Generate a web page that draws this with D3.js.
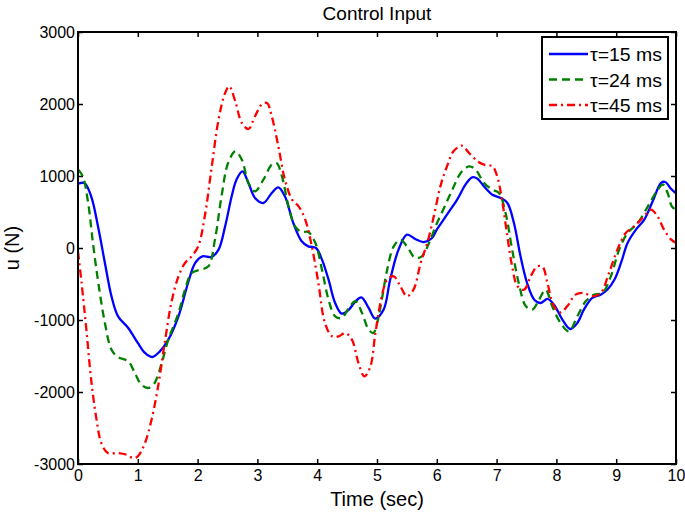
<!DOCTYPE html>
<html>
<head>
<meta charset="utf-8">
<script src="https://cdn.jsdelivr.net/npm/d3@7"></script>
<style>
	body { margin: 0; background: #fff; }
	svg text { font-family: "Liberation Sans", Arial, sans-serif; fill: #000; }
</style>
</head>
<body>
<div id="chart-area"></div>
<script>
// Series: time (sec) and control input u (N)
let timeFast = [0, 0.11, 0.22, 0.335, 0.45, 0.56, 0.67, 0.84, 1.0, 1.12, 1.24, 1.37, 1.51, 1.68, 1.84, 1.96, 2.08, 2.23, 2.35, 2.46, 2.57, 2.65, 2.75, 2.85, 2.96, 3.1, 3.24, 3.35, 3.46, 3.6, 3.74, 3.85, 3.98, 4.08, 4.19, 4.3, 4.41, 4.53, 4.64, 4.74, 4.86, 4.97,
	5.11, 5.22, 5.36, 5.5, 5.64, 5.78, 5.92, 6.0, 6.17, 6.34, 6.48, 6.59, 6.68, 6.79, 6.93, 7.07, 7.18, 7.29, 7.4, 7.51, 7.63, 7.74, 7.85, 7.96, 8.1, 8.23, 8.35, 8.46, 8.6, 8.74, 8.85, 8.97, 9.08, 9.19, 9.33, 9.47, 9.61, 9.75, 9.82, 9.92, 10];
let uFast = [893, 900, 718, 300, -208, -671, -949, -1111, -1319, -1458, -1514, -1435, -1273, -949, -486, -208, -116, -125, -23, 300, 718, 949, 1065, 903, 694, 625, 764, 843, 718, 347, 93, 23, 0, -162, -440, -764, -912, -856, -740, -685, -833, -980,
	-856, -440, -23, 185, 125, 83, 139, 255, 463, 671, 880, 981, 963, 856, 740, 694, 625, 347, -116, -486, -718, -764, -708, -787, -995, -1125, -1042, -856, -694, -648, -579, -440, -208, 69, 255, 394, 648, 903, 917, 819, 760];

let timeMid = [0, 0.08, 0.17, 0.25, 0.34, 0.45, 0.56, 0.67, 0.84, 0.95, 1.06, 1.17, 1.28, 1.4, 1.51, 1.68, 1.79, 1.9, 2.04, 2.18, 2.29, 2.4, 2.51, 2.63, 2.74, 2.85, 2.96, 3.1, 3.24, 3.32, 3.41, 3.52, 3.63, 3.74, 3.85, 3.97, 4.08, 4.19, 4.3, 4.41, 4.53, 4.64, 4.75, 4.86, 4.94, 5.0,
	5.08, 5.17, 5.28, 5.39, 5.5, 5.64, 5.75, 5.87, 5.98, 6.12, 6.26, 6.4, 6.54, 6.65, 6.79, 6.93, 7.04, 7.15, 7.26, 7.37, 7.49, 7.6, 7.71, 7.82, 7.93, 8.07, 8.21, 8.35, 8.49, 8.63, 8.77, 8.91, 9.05, 9.19, 9.36, 9.53, 9.66, 9.78, 9.86, 9.93, 10];
let uMid = [1088, 995, 625, 69, -486, -1042, -1412, -1514, -1574, -1736, -1898, -1944, -1875, -1597, -1273, -903, -579, -347, -301, -255, 116, 718, 1181, 1343, 1227, 903, 787, 949, 1157, 1181, 995, 579, 301, 222, 222, 69, -301, -718, -949, -972, -833, -740, -903, -1134, -1180, -1050,
	-718, -301, 23, 116, 23, -139, -116, 69, 301, 555, 810, 1042, 1134, 1088, 903, 810, 764, 486, -23, -486, -810, -856, -718, -579, -810, -1042, -1157, -949, -740, -648, -625, -394, -23, 208, 347, 579, 764, 880, 764, 579, 530];

let timeSlow = [0, 0.06, 0.14, 0.22, 0.31, 0.39, 0.5, 0.67, 0.81, 0.92, 1.0, 1.12, 1.23, 1.34, 1.45, 1.56, 1.68, 1.79, 1.9, 2.01, 2.12, 2.23, 2.35, 2.46, 2.53, 2.63, 2.74, 2.85, 2.96, 3.07, 3.16, 3.24, 3.35, 3.46, 3.58, 3.69, 3.8, 3.91, 4.02, 4.13, 4.25, 4.36, 4.47, 4.58, 4.69, 4.79, 4.89, 4.97,
	5.08, 5.17, 5.28, 5.39, 5.5, 5.61, 5.73, 5.84, 5.95, 6.06, 6.17, 6.28, 6.42, 6.54, 6.68, 6.79, 6.93, 7.01, 7.09, 7.18, 7.26, 7.35, 7.46, 7.57, 7.68, 7.77, 7.85, 7.96, 8.07, 8.18, 8.32, 8.46, 8.6, 8.74, 8.88, 9.02, 9.16, 9.3, 9.44, 9.58, 9.69, 9.8, 9.92, 10];
let uSlow = [-50, -486, -1134, -1829, -2384, -2708, -2847, -2847, -2870, -2917, -2893, -2708, -2384, -1921, -1319, -764, -394, -208, -116, 23, 440, 1088, 1782, 2153, 2245, 2037, 1736, 1653, 1829, 1991, 2014, 1829, 1412, 949, 671, 579, 394, 23, -486, -1042, -1227, -1227, -1181, -1273, -1597, -1782, -1644, -1200,
	-671, -440, -394, -532, -671, -579, -208, 69, 440, 856, 1134, 1343, 1421, 1319, 1204, 1157, 1134, 995, 671, 162, -255, -532, -579, -394, -255, -264, -486, -810, -894, -810, -648, -625, -671, -625, -347, -23, 208, 301, 417, 532, 440, 255, 116, 70];

let seriesNames = ["\u03c4=15 ms", "\u03c4=24 ms", "\u03c4=45 ms"];
let seriesColors = ["#0000ff", "#008000", "#ff0000"];
let seriesDashes = [null, "8,5", "8,4,2,4"];

let xTicks = [0, 1, 2, 3, 4, 5, 6, 7, 8, 9, 10];
let yTicks = [-3000, -2000, -1000, 0, 1000, 2000, 3000];

let series = [
	timeFast.map((t, i) => ({t: t, u: uFast[i]})),
	timeMid.map((t, i) => ({t: t, u: uMid[i]})),
	timeSlow.map((t, i) => ({t: t, u: uSlow[i]}))
];

// Margins so the plot box runs 78..676 and 32..464
let margin = {top: 32, right: 9, bottom: 48, left: 78};
let width = 685 - margin.left - margin.right,
	height = 512 - margin.top - margin.bottom;

let svgRoot = d3.select("#chart-area")
	.append("svg")
	.attr("width", 685)
	.attr("height", 512);

let svg = svgRoot.append("g")
	.attr("transform", "translate(" + margin.left + "," + margin.top + ")");

let xScale = d3.scaleLinear().domain([0, 10]).range([0, width]);
let yScale = d3.scaleLinear().domain([-3000, 3000]).range([height, 0]);

// Axes with inward ticks on all four sides
let fmt = d => String(d);

svg.append("g")
	.attr("transform", "translate(0," + height + ")")
	.call(d3.axisBottom(xScale).tickValues(xTicks).tickSize(-5).tickPadding(6).tickFormat(fmt))
	.call(g => g.select(".domain").remove())
	.call(g => g.selectAll("text").attr("font-size", "16px").attr("font-family", "Liberation Sans, Arial, sans-serif"));

svg.append("g")
	.call(d3.axisTop(xScale).tickValues(xTicks).tickSize(-5).tickFormat(""))
	.call(g => g.select(".domain").remove());

svg.append("g")
	.call(d3.axisLeft(yScale).tickValues(yTicks).tickSize(-5).tickPadding(3).tickFormat(fmt))
	.call(g => g.select(".domain").remove())
	.call(g => g.selectAll("text").attr("font-size", "16px").attr("font-family", "Liberation Sans, Arial, sans-serif"));

svg.append("g")
	.attr("transform", "translate(" + width + ",0)")
	.call(d3.axisRight(yScale).tickValues(yTicks).tickSize(-5).tickFormat(""))
	.call(g => g.select(".domain").remove());

svg.selectAll(".tick line").attr("stroke", "#000").attr("stroke-width", 1.5);

// Data lines
let lineGen = d3.line()
	.x(d => xScale(d.t))
	.y(d => yScale(d.u))
	.curve(d3.curveCatmullRom);

svg.append("clipPath")
	.attr("id", "plot-clip")
	.append("rect")
	.attr("width", width)
	.attr("height", height);

svg.append("g")
	.attr("clip-path", "url(#plot-clip)")
	.selectAll("path")
	.data(series)
	.enter()
	.append("path")
	.attr("d", lineGen)
	.attr("fill", "none")
	.attr("stroke", (d, i) => seriesColors[i])
	.attr("stroke-width", 2.3)
	.attr("stroke-dasharray", (d, i) => seriesDashes[i]);

// Plot box
svg.append("rect")
	.attr("width", width)
	.attr("height", height)
	.attr("fill", "none")
	.attr("stroke", "#000")
	.attr("stroke-width", 2);

// Legend
let legend = svgRoot.append("g")
	.attr("transform", "translate(542,37)");

legend.append("rect")
	.attr("width", 126)
	.attr("height", 82)
	.attr("fill", "#fff")
	.attr("stroke", "#000")
	.attr("stroke-width", 2);

let legendRows = legend.selectAll(".legend-row")
	.data(seriesNames)
	.enter()
	.append("g")
	.attr("class", "legend-row")
	.attr("transform", (d, i) => "translate(0," + (17 + i * 25.5) + ")");

legendRows.append("line")
	.attr("x1", 7)
	.attr("x2", 46)
	.attr("stroke", (d, i) => seriesColors[i])
	.attr("stroke-width", 2.3)
	.attr("stroke-dasharray", (d, i) => seriesDashes[i]);

legendRows.append("text")
	.attr("x", 48)
	.attr("y", 7)
	.attr("font-size", "19px")
	.attr("textLength", 72)
	.attr("lengthAdjust", "spacingAndGlyphs")
	.text(d => d);

// Title and axis labels
svgRoot.append("text")
	.attr("x", margin.left + width / 2)
	.attr("y", 20)
	.attr("text-anchor", "middle")
	.attr("font-size", "19px")
	.text("Control Input");

svgRoot.append("text")
	.attr("x", margin.left + width / 2)
	.attr("y", 506)
	.attr("text-anchor", "middle")
	.attr("font-size", "20px")
	.text("Time (sec)");

svgRoot.append("text")
	.attr("transform", "translate(19," + (margin.top + height / 2) + ") rotate(-90)")
	.attr("text-anchor", "middle")
	.attr("font-size", "20px")
	.text("u (N)");
</script>
</body>
</html>
